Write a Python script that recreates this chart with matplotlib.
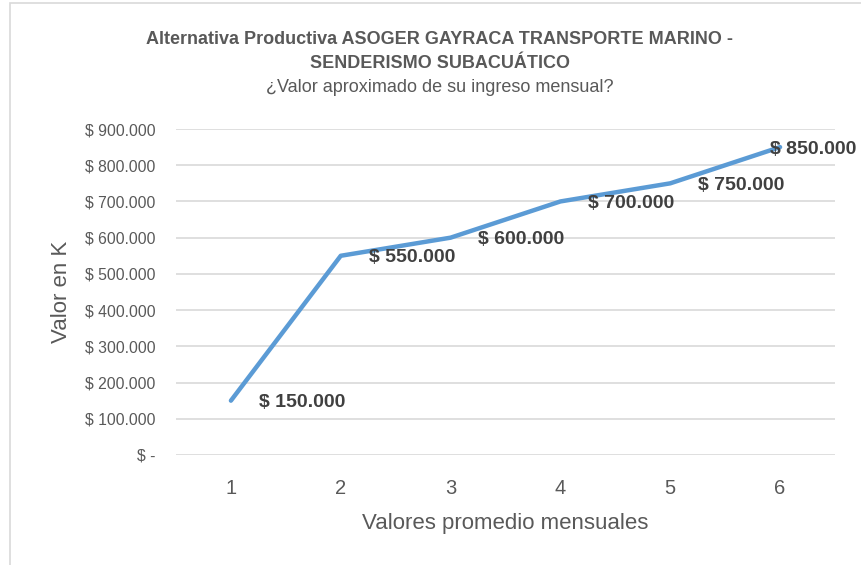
import matplotlib
matplotlib.use("Agg")
import matplotlib.pyplot as plt
from matplotlib.patches import Rectangle
from matplotlib.ticker import FuncFormatter, MultipleLocator

plt.rcParams["font.family"] = ["Liberation Sans", "DejaVu Sans"]

periodos = [1, 2, 3, 4, 5, 6]
ingresos = [150000, 550000, 600000, 700000, 750000, 850000]

titulo = "Alternativa Productiva ASOGER GAYRACA TRANSPORTE MARINO -\nSENDERISMO SUBACUÁTICO"
subtitulo = "¿Valor aproximado de su ingreso mensual?"
etiqueta_x = "Valores promedio mensuales"
etiqueta_y = "Valor en K"

LINE = "#5B9BD5"
GRID = "#D9D9D9"
TEXT = "#595959"
LABEL = "#404040"


def pesos(v, _pos=None):
    if v == 0:
        return "$ -"
    return "$ " + f"{v:,.0f}".replace(",", ".")


fig = plt.figure(figsize=(8.62, 5.65), dpi=100)
ax = fig.add_axes([176 / 862, 1 - 455 / 565, (835 - 176) / 862, (455 - 129) / 565])

# borde del gráfico (solo arriba e izquierda quedan visibles)
fig.patches.append(Rectangle((10 / 862, -0.05), 1.1, 1 - 3 / 565 + 0.05, transform=fig.transFigure,
                             fill=False, edgecolor=GRID, linewidth=1.2))

ax.plot(periodos, ingresos, color=LINE, linewidth=3.2, solid_capstyle="round", zorder=3)

for i, (x, y) in enumerate(zip(periodos, ingresos)):
    dx = 20 if i < len(periodos) - 1 else -7.5
    ax.annotate(pesos(y), (x, y), xytext=(dx, -1.5), textcoords="offset points",
                ha="left", va="center", fontsize=14, fontweight="bold", color=LABEL, zorder=4)

ax.set_xlim(0.5, 6.5)
ax.set_ylim(0, 900000)
ax.set_xticks(periodos)
ax.yaxis.set_major_locator(MultipleLocator(100000))
ax.yaxis.set_major_formatter(FuncFormatter(pesos))
ax.grid(True, axis="y", color=GRID, linewidth=1.2, zorder=0)
for s in ax.spines.values():
    s.set_visible(False)
ax.tick_params(axis="both", length=0, colors=TEXT)
ax.tick_params(axis="y", pad=15, labelsize=11.3)
ax.tick_params(axis="x", pad=17, labelsize=14.5)

ax.set_xlabel(etiqueta_x, fontsize=16, color=TEXT, labelpad=11)
ax.set_ylabel(etiqueta_y, fontsize=16, color=TEXT, labelpad=9)

fig.text(440 / 862, 1 - 51.5 / 565, titulo, ha="center", va="center", fontsize=13,
         fontweight="bold", color=TEXT, linespacing=1.55)
fig.text(440 / 862, 1 - 88 / 565, subtitulo, ha="center", va="center", fontsize=13, color=TEXT)

fig.savefig("out.png", dpi=100)
